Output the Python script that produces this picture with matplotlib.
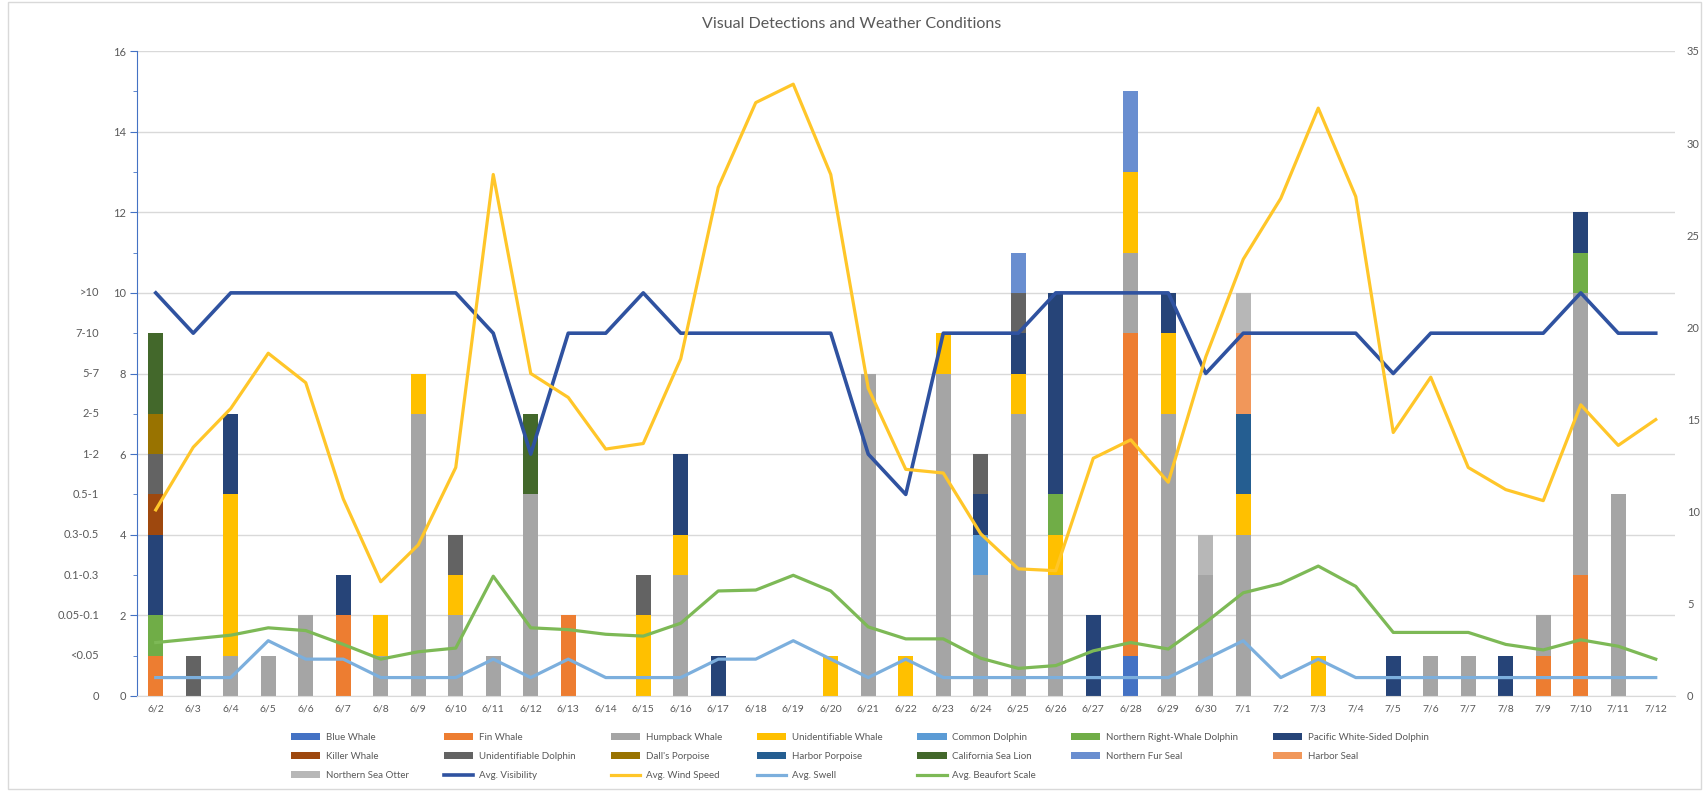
import numpy as np
import matplotlib
matplotlib.use('Agg')
import matplotlib.pyplot as plt
from matplotlib.ticker import MultipleLocator
from matplotlib.patches import Rectangle

plt.rcParams['font.family'] = ['Lato', 'DejaVu Sans']

# Survey days
dates = ['6/2', '6/3', '6/4', '6/5', '6/6', '6/7', '6/8', '6/9', '6/10', '6/11',
         '6/12', '6/13', '6/14', '6/15', '6/16', '6/17', '6/18', '6/19', '6/20', '6/21',
         '6/22', '6/23', '6/24', '6/25', '6/26', '6/27', '6/28', '6/29', '6/30', '7/1',
         '7/2', '7/3', '7/4', '7/5', '7/6', '7/7', '7/8', '7/9', '7/10', '7/11', '7/12']

# Daily visual detections per species (stacked in this order)
blue_whale =      [0,0,0,0,0,0,0,0,0,0, 0,0,0,0,0,0,0,0,0,0, 0,0,0,0,0,0,1,0,0,0, 0,0,0,0,0,0,0,0,0,0,0]
fin_whale =       [1,0,0,0,0,2,0,0,0,0, 0,2,0,0,0,0,0,0,0,0, 0,0,0,0,0,0,8,0,0,0, 0,0,0,0,0,0,0,1,3,0,0]
humpback_whale =  [0,0,1,1,2,0,1,7,2,1, 5,0,0,0,3,0,0,0,0,8, 0,8,3,7,3,0,2,7,3,4, 0,0,0,0,1,1,0,1,7,5,0]
unid_whale =      [0,0,4,0,0,0,1,1,1,0, 0,0,0,2,1,0,0,0,1,0, 1,1,0,1,1,0,2,2,0,1, 0,1,0,0,0,0,0,0,0,0,0]
common_dolphin =  [0,0,0,0,0,0,0,0,0,0, 0,0,0,0,0,0,0,0,0,0, 0,0,1,0,0,0,0,0,0,0, 0,0,0,0,0,0,0,0,0,0,0]
nrw_dolphin =     [1,0,0,0,0,0,0,0,0,0, 0,0,0,0,0,0,0,0,0,0, 0,0,0,0,1,0,0,0,0,0, 0,0,0,0,0,0,0,0,1,0,0]
pws_dolphin =     [2,0,2,0,0,1,0,0,0,0, 0,0,0,0,2,1,0,0,0,0, 0,0,1,1,5,2,0,1,0,0, 0,0,0,1,0,0,1,0,1,0,0]
killer_whale =    [1,0,0,0,0,0,0,0,0,0, 0,0,0,0,0,0,0,0,0,0, 0,0,0,0,0,0,0,0,0,0, 0,0,0,0,0,0,0,0,0,0,0]
unid_dolphin =    [1,1,0,0,0,0,0,0,1,0, 0,0,0,1,0,0,0,0,0,0, 0,0,1,1,0,0,0,0,0,0, 0,0,0,0,0,0,0,0,0,0,0]
dalls_porpoise =  [1,0,0,0,0,0,0,0,0,0, 0,0,0,0,0,0,0,0,0,0, 0,0,0,0,0,0,0,0,0,0, 0,0,0,0,0,0,0,0,0,0,0]
harbor_porpoise = [0,0,0,0,0,0,0,0,0,0, 0,0,0,0,0,0,0,0,0,0, 0,0,0,0,0,0,0,0,0,2, 0,0,0,0,0,0,0,0,0,0,0]
ca_sea_lion =     [2,0,0,0,0,0,0,0,0,0, 2,0,0,0,0,0,0,0,0,0, 0,0,0,0,0,0,0,0,0,0, 0,0,0,0,0,0,0,0,0,0,0]
n_fur_seal =      [0,0,0,0,0,0,0,0,0,0, 0,0,0,0,0,0,0,0,0,0, 0,0,0,1,0,0,2,0,0,0, 0,0,0,0,0,0,0,0,0,0,0]
harbor_seal =     [0,0,0,0,0,0,0,0,0,0, 0,0,0,0,0,0,0,0,0,0, 0,0,0,0,0,0,0,0,0,2, 0,0,0,0,0,0,0,0,0,0,0]
sea_otter =       [0,0,0,0,0,0,0,0,0,0, 0,0,0,0,0,0,0,0,0,0, 0,0,0,0,0,0,0,0,1,1, 0,0,0,0,0,0,0,0,0,0,0]

species = ['Blue Whale', 'Fin Whale', 'Humpback Whale', 'Unidentifiable Whale',
           'Common Dolphin', 'Northern Right-Whale Dolphin', 'Pacific White-Sided Dolphin',
           'Killer Whale', 'Unidentifiable Dolphin', "Dall's Porpoise", 'Harbor Porpoise',
           'California Sea Lion', 'Northern Fur Seal', 'Harbor Seal', 'Northern Sea Otter']
counts = [blue_whale, fin_whale, humpback_whale, unid_whale, common_dolphin, nrw_dolphin,
          pws_dolphin, killer_whale, unid_dolphin, dalls_porpoise, harbor_porpoise,
          ca_sea_lion, n_fur_seal, harbor_seal, sea_otter]

# Weather
visibility = [10,9,10,10,10,10,10,10,10,9, 6,9,9,10,9,9,9,9,9,6,
              5,9,9,9,10,10,10,10,8,9, 9,9,9,8,9,9,9,9,10,9,9]
wind_speed = [10.1,13.5,15.6,18.6,17.0,10.7,6.2,8.2,12.4,28.3,
              17.5,16.2,13.4,13.7,18.3,27.6,32.2,33.2,28.3,16.7,
              12.3,12.1,8.8,6.9,6.8,12.9,13.9,11.6,18.4,23.7,
              27.0,31.9,27.1,14.3,17.3,12.4,11.2,10.6,15.8,13.6,15.0]
swell = [1,1,1,3,2,2,1,1,1,2, 1,2,1,1,1,2,2,3,2,1,
         2,1,1,1,1,1,1,1,2,3, 1,2,1,1,1,1,1,1,1,1,1]
beaufort = [2.9,3.1,3.3,3.7,3.55,2.8,2.0,2.4,2.6,6.5,
            3.7,3.6,3.35,3.25,3.95,5.7,5.75,6.55,5.7,3.75,
            3.1,3.1,2.05,1.5,1.65,2.45,2.9,2.55,4.0,5.6,
            6.1,7.05,5.95,3.45,3.45,3.45,2.8,2.5,3.05,2.7,2.0]

vis_labels = ['0', '<0.05', '0.05-0.1', '0.1-0.3', '0.3-0.5', '0.5-1',
              '1-2', '2-5', '5-7', '7-10', '>10']

colors = ['#4472C4', '#ED7D31', '#A5A5A5', '#FFC000', '#5B9BD5', '#70AD47', '#264478',
          '#9E480E', '#636363', '#997300', '#255E91', '#43682B', '#698ED0', '#F1975A',
          '#B7B7B7']
txt = '#595959'

W, H = 1703, 791
fig = plt.figure(figsize=(W / 100, H / 100), dpi=100)
fig.patches.append(Rectangle((8 / W, 2 / H), 1 - 10 / W, 1 - 4 / H, transform=fig.transFigure,
                             fill=False, edgecolor='#D9D9D9', lw=1))

ax = fig.add_axes([137 / W, 1 - 696 / H, (1674.5 - 137) / W, (696 - 51) / H])
x = np.arange(len(dates))
bottom = np.zeros(len(dates))
handles = []
for name, vals, col in zip(species, counts, colors):
    b = ax.bar(x, vals, 0.4, bottom=bottom, color=col, label=name, zorder=2)
    handles.append(b)
    bottom += np.array(vals)

ln, = ax.plot(x, visibility, color='#2F52A0', lw=2.6, zorder=3, label='Avg. Visibility')
handles.append(ln)

ax.set_xlim(-0.5, len(dates) - 0.5)
ax.set_ylim(0, 16)
ax.yaxis.set_major_locator(MultipleLocator(2))
ax.yaxis.set_minor_locator(MultipleLocator(1))
ax.grid(axis='y', which='major', color='#D9D9D9', lw=1, zorder=0)
ax.set_xticks(x)
ax.set_xticklabels(dates)
ax.tick_params(axis='x', length=0, pad=6, labelsize=7.5, labelcolor=txt)
ax.tick_params(axis='y', which='major', length=5, color='#4472C4', labelsize=8,
               labelcolor=txt, pad=3)
ax.tick_params(axis='y', which='minor', length=3, color='#4472C4')
for s in ['top', 'right']:
    ax.spines[s].set_visible(False)
ax.spines['left'].set_color('#4472C4')
ax.spines['bottom'].set_color('#D9D9D9')

for i, lab in enumerate(vis_labels):
    ax.text(-0.0247, i, lab, transform=ax.get_yaxis_transform(), ha='right', va='center',
            fontsize=8, color=txt)

ax2 = ax.twinx()
handles += ax2.plot(x, wind_speed, color='#FFC629', lw=2.3, zorder=3, label='Avg. Wind Speed')
handles += ax2.plot(x, swell, color='#7CAFDD', lw=2.3, zorder=3, label='Avg. Swell')
handles += ax2.plot(x, beaufort, color='#7DB956', lw=2.3, zorder=3, label='Avg. Beaufort Scale')
ax2.set_ylim(0, 35)
ax2.yaxis.set_major_locator(MultipleLocator(5))
ax2.tick_params(axis='y', length=0, labelsize=8, labelcolor=txt, pad=9)
for s in ax2.spines.values():
    s.set_visible(False)

fig.text(0.5, 1 - 24 / H, 'Visual Detections and Weather Conditions', ha='center',
         va='center', fontsize=11.5, color=txt)

labels = [h.get_label() for h in handles]
ncol = 7
order = [r * ncol + c for c in range(ncol) for r in range(3) if r * ncol + c < len(handles)]
fig.legend([handles[i] for i in order], [labels[i] for i in order], ncol=ncol,
           loc='upper center', bbox_to_anchor=(0.505, 1 - 724 / H), frameon=False,
           fontsize=7, labelcolor=txt, handlelength=3.0, handleheight=0.7,
           columnspacing=3.6, labelspacing=1.05, handletextpad=0.6)

fig.savefig('out.png', dpi=100)
